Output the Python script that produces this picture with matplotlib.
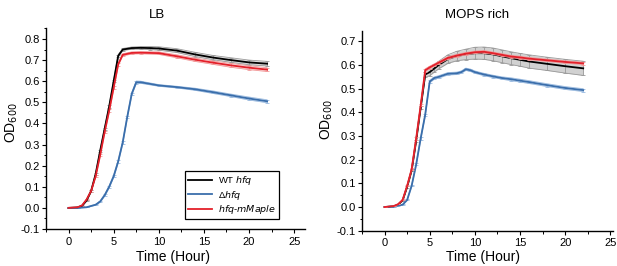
import matplotlib
matplotlib.use("Agg")
import matplotlib.pyplot as plt
from matplotlib.ticker import MultipleLocator, FormatStrFormatter

plt.rcParams['font.family'] = ['Liberation Sans', 'DejaVu Sans']

# ---------------- LB data ----------------
lb_wt_t = [0, 1, 1.5, 2, 2.5, 3, 3.5, 4, 4.5, 5, 5.5, 6, 7, 8, 9, 10, 12, 14, 16, 18, 20, 22]
lb_wt_v = [0, 0.002, 0.01, 0.035, 0.08, 0.16, 0.27, 0.375, 0.48, 0.6, 0.72, 0.75, 0.757, 0.758, 0.757,
           0.755, 0.745, 0.727, 0.712, 0.70, 0.689, 0.683]
lb_wt_e = [0, 0, 0, 0.002, 0.003, 0.004, 0.005, 0.005, 0.006, 0.006, 0.006, 0.005, 0.005, 0.006, 0.007,
           0.008, 0.009, 0.01, 0.01, 0.011, 0.011, 0.011]

lb_dh_t = [0, 1, 2, 3, 3.5, 4, 4.5, 5, 5.5, 6, 6.5, 7, 7.5, 8, 10, 12, 14, 16, 18, 20, 22]
lb_dh_v = [0, 0, 0.003, 0.015, 0.03, 0.06, 0.1, 0.15, 0.22, 0.31, 0.43, 0.54, 0.595, 0.595,
           0.58, 0.572, 0.562, 0.548, 0.533, 0.518, 0.505]
lb_dh_e = [0, 0, 0.001, 0.002, 0.003, 0.004, 0.005, 0.005, 0.006, 0.006, 0.006, 0.006, 0.006,
           0.005, 0.004, 0.004, 0.005, 0.006, 0.006, 0.007, 0.007]

lb_mm_t = [0, 1, 1.5, 2, 2.5, 3, 3.5, 4, 4.5, 5, 5.5, 6, 7, 8, 10, 12, 14, 16, 18, 20, 22]
lb_mm_v = [0, 0.003, 0.012, 0.04, 0.08, 0.15, 0.25, 0.36, 0.46, 0.57, 0.68, 0.725, 0.734, 0.735,
           0.733, 0.718, 0.702, 0.688, 0.675, 0.664, 0.655]
lb_mm_e = [0, 0, 0.001, 0.002, 0.003, 0.004, 0.005, 0.005, 0.006, 0.006, 0.006, 0.005, 0.005,
           0.005, 0.006, 0.007, 0.008, 0.008, 0.009, 0.009, 0.009]

# ---------------- MOPS rich data ----------------
mo_t = [0, 1, 1.5, 2, 2.5, 3, 3.5, 4, 4.5, 5, 5.5, 6, 7, 8, 9, 10, 11, 12, 13, 14, 15, 16, 18, 20, 22]
mo_wt_v = [0, 0.003, 0.01, 0.028, 0.085, 0.155, 0.28, 0.42, 0.56, 0.57, 0.585, 0.6, 0.625, 0.638,
           0.645, 0.65, 0.65, 0.645, 0.637, 0.629, 0.622, 0.615, 0.605, 0.595, 0.586]
mo_wt_e = [0, 0, 0, 0.002, 0.003, 0.004, 0.005, 0.006, 0.012, 0.015, 0.015, 0.016, 0.018, 0.02,
           0.022, 0.025, 0.026, 0.027, 0.027, 0.027, 0.027, 0.028, 0.028, 0.029, 0.03]
mo_mm_v = [0, 0.004, 0.012, 0.03, 0.09, 0.16, 0.29, 0.43, 0.578, 0.59, 0.6, 0.61, 0.63, 0.64,
           0.648, 0.654, 0.656, 0.65, 0.643, 0.636, 0.632, 0.627, 0.62, 0.613, 0.607]
mo_mm_e = [0, 0, 0.001, 0.002, 0.003, 0.004, 0.005, 0.005, 0.006, 0.005, 0.005, 0.005, 0.005,
           0.005, 0.005, 0.005, 0.005, 0.005, 0.005, 0.005, 0.005, 0.005, 0.005, 0.005, 0.005]

mo_dh_t = [0, 1, 1.5, 2, 2.5, 3, 3.5, 4, 4.5, 5, 5.5, 6, 7, 8, 8.5, 9, 9.5, 10, 11, 12, 13, 14,
           15, 16, 18, 20, 22]
mo_dh_v = [0, 0.002, 0.006, 0.01, 0.03, 0.09, 0.18, 0.29, 0.39, 0.53, 0.545, 0.55, 0.563, 0.565,
           0.57, 0.582, 0.578, 0.57, 0.56, 0.552, 0.545, 0.54, 0.534, 0.528, 0.515, 0.503, 0.494]
mo_dh_e = [0, 0, 0.001, 0.001, 0.002, 0.003, 0.004, 0.005, 0.005, 0.005, 0.005, 0.005, 0.005,
           0.005, 0.005, 0.005, 0.005, 0.005, 0.005, 0.005, 0.005, 0.006, 0.006, 0.006, 0.006,
           0.006, 0.006]

BLACK = "#000000"
BLUE = "#3a6eab"
RED = "#e4202a"
LBLACK = "#9a9a9a"
LBLUE = "#9bbbe0"
LRED = "#f29a9a"

fig = plt.figure(figsize=(6.17, 2.66), dpi=100)
axL = fig.add_axes([46/617, 1-229/266, 259/617, 201/266])
axR = fig.add_axes([362/617, 1-230.7/266, 251/617, 200/266])


def series(ax, t, v, e, col, lcol, label, z, band=False):
    lo = [a - b for a, b in zip(v, e)]
    hi = [a + b for a, b in zip(v, e)]
    ax.fill_between(t, lo, hi, color=lcol, alpha=0.45 if band else 0.35, lw=0, zorder=z)
    ax.plot(t, lo, color=lcol, lw=0.6, zorder=z)
    ax.plot(t, hi, color=lcol, lw=0.6, zorder=z)
    ax.errorbar(t, v, yerr=e, fmt='none', ecolor=lcol, elinewidth=0.6, capsize=1.5,
                capthick=0.6, zorder=z)
    ax.plot(t, v, color=col, lw=1.3, label=label, zorder=z + 1)


series(axL, lb_wt_t, lb_wt_v, lb_wt_e, BLACK, LBLACK, "WT $\\it{hfq}$", 3)
series(axL, lb_dh_t, lb_dh_v, lb_dh_e, BLUE, LBLUE, "Δ$\\it{hfq}$", 3)
series(axL, lb_mm_t, lb_mm_v, lb_mm_e, RED, LRED, "$\\it{hfq}$-$\\it{mMaple}$", 3)

series(axR, mo_t, mo_wt_v, mo_wt_e, BLACK, LBLACK, "WT hfq", 3, band=True)
series(axR, mo_dh_t, mo_dh_v, mo_dh_e, BLUE, LBLUE, "Δhfq", 3)
series(axR, mo_t, mo_mm_v, mo_mm_e, RED, LRED, "hfq-mMaple", 4)

for ax, ytop, ymaj in ((axL, 0.852, 0.1), (axR, 0.745, 0.1)):
    ax.set_xlim(-2.5, 26.2 if ax is axL else 25.3)
    ax.set_ylim(-0.1, ytop)
    for s in ('top', 'right'):
        ax.spines[s].set_visible(False)
    for s in ('left', 'bottom'):
        ax.spines[s].set_linewidth(1.0)
    ax.xaxis.set_major_locator(MultipleLocator(5))
    ax.xaxis.set_minor_locator(MultipleLocator(2.5))
    ax.yaxis.set_major_locator(MultipleLocator(ymaj))
    ax.yaxis.set_minor_locator(MultipleLocator(ymaj / 2))
    ax.yaxis.set_major_formatter(FormatStrFormatter('%.1f'))
    ax.tick_params(which='major', direction='out', length=3, width=0.8, labelsize=8, pad=1.5)
    ax.tick_params(which='minor', direction='out', length=1.8, width=0.7)
    ax.tick_params(axis='x', pad=2.5)

axL.legend(loc='lower right', bbox_to_anchor=(0.898, 0.05), fontsize=6.8, frameon=True,
           fancybox=False, edgecolor='black', framealpha=1, handlelength=2.6,
           borderpad=0.3, labelspacing=0.15, handletextpad=0.6, borderaxespad=0)
axL.get_legend().get_frame().set_linewidth(0.9)

fig.text(157/617, 1-15/266, "LB", ha='center', va='center', fontsize=9.5)
fig.text(477/617, 1-15/266, "MOPS rich", ha='center', va='center', fontsize=9.5)
fig.text(173/617, 1-257/266, "Time (Hour)", ha='center', va='center', fontsize=10)
fig.text(483/617, 1-257/266, "Time (Hour)", ha='center', va='center', fontsize=10)
fig.text(12/617, 1-123/266, "OD$_{600}$", ha='center', va='center', fontsize=10, rotation=90)
fig.text(327/617, 1-120/266, "OD$_{600}$", ha='center', va='center', fontsize=10, rotation=90)

fig.savefig("out.png", dpi=100)
